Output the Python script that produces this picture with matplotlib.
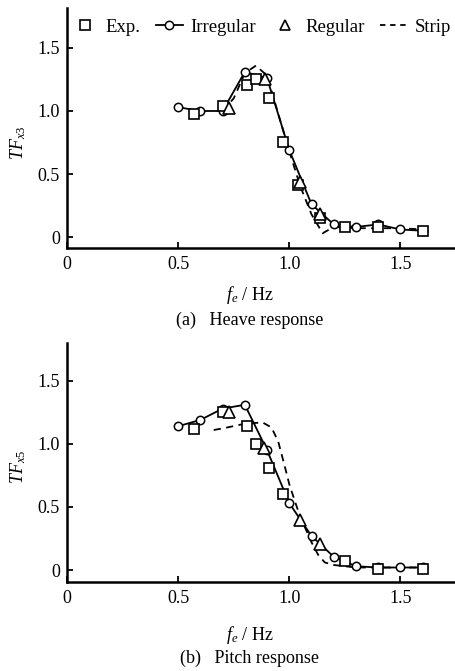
import matplotlib
matplotlib.use("Agg")
import matplotlib.pyplot as plt
from matplotlib.lines import Line2D

plt.rcParams['font.family'] = ['Liberation Serif', 'DejaVu Serif']
plt.rcParams['mathtext.fontset'] = 'custom'
plt.rcParams['mathtext.rm'] = 'Liberation Serif'
plt.rcParams['mathtext.it'] = 'Liberation Serif:italic'

# ---- Heave (a) ----
heave_irr_x = [0.5, 0.6, 0.7, 0.8, 0.9, 1.0, 1.1, 1.2, 1.3, 1.4, 1.5, 1.6]
heave_irr_y = [1.03, 1.00, 1.00, 1.31, 1.26, 0.69, 0.26, 0.10, 0.08, 0.10, 0.06, 0.05]
heave_exp_x = [0.57, 0.70, 0.81, 0.85, 0.91, 0.97, 1.04, 1.14, 1.25, 1.40, 1.60]
heave_exp_y = [0.98, 1.04, 1.21, 1.25, 1.10, 0.75, 0.41, 0.15, 0.08, 0.08, 0.05]
heave_reg_x = [0.73, 0.89, 1.05, 1.14]
heave_reg_y = [1.02, 1.25, 0.44, 0.18]
heave_strip_x = [0.70, 0.75, 0.80, 0.85, 0.90, 0.95, 1.00, 1.05, 1.10, 1.15, 1.20, 1.30, 1.40, 1.50, 1.60]
heave_strip_y = [1.00, 1.10, 1.30, 1.36, 1.28, 0.98, 0.68, 0.40, 0.18, 0.03, 0.08, 0.07, 0.07, 0.07, 0.06]

# ---- Pitch (b) ----
pitch_irr_x = [0.5, 0.6, 0.7, 0.8, 0.9, 1.0, 1.1, 1.2, 1.3, 1.4, 1.5, 1.6]
pitch_irr_y = [1.14, 1.19, 1.28, 1.31, 0.95, 0.53, 0.27, 0.105, 0.03, 0.02, 0.02, 0.02]
pitch_exp_x = [0.57, 0.70, 0.81, 0.85, 0.91, 0.97, 1.25, 1.40, 1.60]
pitch_exp_y = [1.12, 1.25, 1.145, 1.00, 0.81, 0.60, 0.07, 0.01, 0.01]
pitch_reg_x = [0.73, 0.885, 1.05, 1.14]
pitch_reg_y = [1.25, 0.97, 0.40, 0.21]
pitch_strip_x = [0.66, 0.72, 0.80, 0.88, 0.92, 0.95, 0.98, 1.00, 1.03, 1.05, 1.10, 1.13, 1.16, 1.20, 1.30, 1.40, 1.50, 1.60]
pitch_strip_y = [1.11, 1.13, 1.16, 1.17, 1.13, 1.02, 0.82, 0.68, 0.52, 0.42, 0.22, 0.12, 0.06, 0.04, 0.02, 0.02, 0.02, 0.02]

xticks = [0, 0.5, 1.0, 1.5]
xticklabels = ['0', '0.5', '1.0', '1.5']
yticks = [0, 0.5, 1.0, 1.5]
yticklabels = ['0', '0.5', '1.0', '1.5']

W, H = 456, 671
fig = plt.figure(figsize=(W / 100, H / 100), dpi=100)

def px_axes(left, right, top, bottom):
    return [left / W, 1 - bottom / H, (right - left) / W, (bottom - top) / H]

ax1 = fig.add_axes(px_axes(67, 456, 8, 248))
ax2 = fig.add_axes(px_axes(67, 456, 343, 582))

ms_c, ms_s, ms_t = 6, 7.5, 8.5
lw = 1.3

def draw(ax, ix, iy, ex, ey, rx, ry, sx, sy, ylim, ylab, ylab_y):
    ax.plot(sx, sy, ls=(0, (4, 3)), color='black', lw=lw, zorder=2)
    ax.plot(ix, iy, '-', color='black', lw=lw, marker='o', ms=ms_c,
            mfc='white', mec='black', mew=1.1, zorder=3)
    ax.plot(ex, ey, ls='none', marker='s', ms=ms_s, mfc='white', mec='black', mew=1.2, zorder=4)
    ax.plot(rx, ry, ls='none', marker='^', ms=ms_t, mfc='white', mec='black', mew=1.2, zorder=4)
    ax.set_xlim(0, 1.75)
    ax.set_ylim(*ylim)
    ax.set_xticks(xticks)
    ax.set_xticklabels(xticklabels)
    ax.set_yticks(yticks)
    ax.set_yticklabels(yticklabels)
    for s in ['top', 'right']:
        ax.spines[s].set_visible(False)
    for s in ['left', 'bottom']:
        ax.spines[s].set_linewidth(1.8)
    ax.tick_params(direction='in', length=4, width=1.3, labelsize=13)
    ax.tick_params(axis='x', pad=6)
    ax.tick_params(axis='y', pad=5)
    ax.set_ylabel(ylab, fontsize=13)
    ax.yaxis.set_label_coords(-0.10, ylab_y)

draw(ax1, heave_irr_x, heave_irr_y, heave_exp_x, heave_exp_y, heave_reg_x, heave_reg_y,
     heave_strip_x, heave_strip_y, (-0.087, 1.817), r'$TF_{x3}$', 0.44)
draw(ax2, pitch_irr_x, pitch_irr_y, pitch_exp_x, pitch_exp_y, pitch_reg_x, pitch_reg_y,
     pitch_strip_x, pitch_strip_y, (-0.095, 1.80), r'$TF_{x5}$', 0.48)

cx = 250 / W
fig.text(cx, 1 - 295 / H, r'$f_e$ / Hz', ha='center', va='center', fontsize=13)
fig.text(cx, 1 - 320 / H, '(a)   Heave response', ha='center', va='center', fontsize=13)
fig.text(cx, 1 - 635 / H, r'$f_e$ / Hz', ha='center', va='center', fontsize=13)
fig.text(cx, 1 - 658 / H, '(b)   Pitch response', ha='center', va='center', fontsize=13)

handles = [
    Line2D([], [], ls='none', marker='s', ms=ms_s - 1, mfc='white', mec='black', mew=1.2),
    Line2D([], [], ls='-', color='black', lw=lw, marker='o', ms=ms_c, mfc='white', mec='black', mew=1.1),
    Line2D([], [], ls='none', marker='^', ms=ms_t - 1, mfc='white', mec='black', mew=1.2),
    Line2D([], [], ls=(0, (3, 2.6)), color='black', lw=lw),
]
labels = ['Exp.', 'Irregular', 'Regular', 'Strip']
fig.legend(handles, labels, loc='center', bbox_to_anchor=(261 / W, 1 - 27 / H), ncol=4,
           frameon=False, fontsize=13.5, handlelength=1.45, handletextpad=0.4,
           columnspacing=0.8, borderpad=0)

fig.savefig('out.png', dpi=100)
